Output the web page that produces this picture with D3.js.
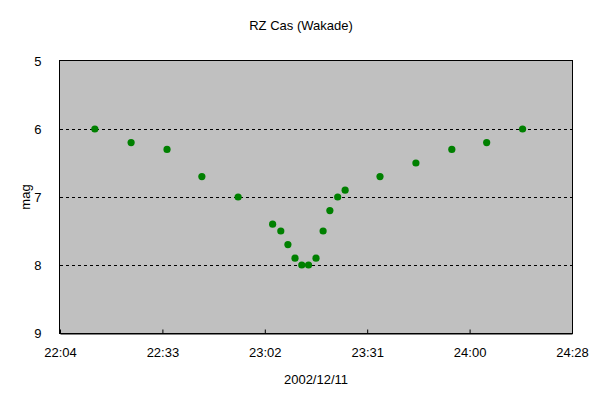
<!DOCTYPE html>
<html lang="ja">
<head>
<meta charset="UTF-8">
<title>RZ Cas (Wakade)</title>
<script src="https://d3js.org/d3.v7.min.js"></script>
<style>
    body { margin: 0; background: #fff; }
    text { font-family: "Liberation Sans", Arial, sans-serif; font-size: 13px; fill: #000; }
</style>
</head>
<body>
<div id="chart"></div>
<script>

    // observation times (2002/12/11, hours past midnight may exceed 24)
    var times = ["22:14:36", "22:24:48", "22:34:54", "22:44:42", "22:54:54",
        "23:04:36", "23:06:54", "23:08:54", "23:10:54", "23:12:48", "23:14:42",
        "23:16:48", "23:18:48", "23:20:42", "23:22:54", "23:25:00",
        "23:34:48", "23:44:54", "23:55:00", "24:04:48", "24:14:54"]
    var mags = [6.0, 6.2, 6.3, 6.7, 7.0,
        7.4, 7.5, 7.7, 7.9, 8.0, 8.0,
        7.9, 7.5, 7.2, 7.0, 6.9,
        6.7, 6.5, 6.3, 6.2, 6.0]

    var xTickLabels = ["22:04", "22:33", "23:02", "23:31", "24:00", "24:28"]
    var yTicks = [5, 6, 7, 8, 9]
    var gridLines = [6, 7, 8]

    var width = 602, height = 398
    var margin = {top: 61, right: 30, bottom: 65, left: 60}

    function toMinutes(s) {
        var p = s.split(":")
        return +p[0] * 60 + +p[1] + (p[2] ? +p[2] / 60 : 0)
    }

    // Excel style axis: 0.92 .. 1.02 day, step 0.02 day
    var xMin = 0.92 * 1440, xMax = 1.02 * 1440, xStep = 0.02 * 1440
    var xTicks = d3.range(xTickLabels.length).map(function (i) { return xMin + i * xStep })

    var svg = d3.select("#chart").append("svg")
        .attr("width", width)
        .attr("height", height)

    var x = d3.scaleLinear()
        .domain([xMin, xMax])
        .range([margin.left, width - margin.right])

    var y = d3.scaleLinear()
        .domain([5, 9])
        .range([margin.top, height - margin.bottom])

    // plot area
    svg.append("rect")
        .attr("x", x(xMin))
        .attr("y", y(5))
        .attr("width", x(xMax) - x(xMin))
        .attr("height", y(9) - y(5))
        .attr("fill", "#c0c0c0")

    svg.selectAll(".grid")
        .data(gridLines)
        .enter().append("line")
        .attr("class", "grid")
        .attr("x1", x(xMin))
        .attr("x2", x(xMax))
        .attr("y1", function (d) { return Math.round(y(d)) + 0.5 })
        .attr("y2", function (d) { return Math.round(y(d)) + 0.5 })
        .attr("stroke", "#000")
        .attr("stroke-dasharray", "3,3")

    svg.append("rect")
        .attr("x", x(xMin) - 0.5)
        .attr("y", y(5) - 0.5)
        .attr("width", x(xMax) - x(xMin) + 1)
        .attr("height", y(9) - y(5) + 1)
        .attr("fill", "none")
        .attr("stroke", "#000")

    // x axis
    var xAxis = d3.axisBottom(x)
        .tickValues(xTicks)
        .tickSizeInner(-4)
        .tickSizeOuter(0)
        .tickPadding(14)
        .tickFormat(function (d, i) { return xTickLabels[i] })

    var gx = svg.append("g")
        .attr("transform", "translate(0," + (Math.round(y(9)) + 0.5) + ")")
        .call(xAxis)
    gx.select(".domain").attr("stroke", "#000")
    gx.selectAll("text").attr("font-size", 13).attr("font-family", null)

    // y axis
    var yAxis = d3.axisLeft(y)
        .tickValues(yTicks)
        .tickSize(0)
        .tickPadding(18)
        .tickFormat(d3.format("d"))

    var gy = svg.append("g")
        .attr("transform", "translate(" + (x(xMin) - 0.5) + ",0)")
        .call(yAxis)
    gy.select(".domain").remove()
    gy.selectAll("text").attr("font-size", 13).attr("font-family", null)

    // points
    svg.selectAll(".pt")
        .data(times)
        .enter().append("circle")
        .attr("class", "pt")
        .attr("cx", function (d) { return x(toMinutes(d)) })
        .attr("cy", function (d, i) { return y(mags[i]) })
        .attr("r", 3.6)
        .attr("fill", "#008000")

    // titles
    svg.append("text")
        .attr("x", 301)
        .attr("y", 30)
        .attr("text-anchor", "middle")
        .text("RZ Cas (Wakade)")

    svg.append("text")
        .attr("x", (x(xMin) + x(xMax)) / 2)
        .attr("y", 384)
        .attr("text-anchor", "middle")
        .text("2002/12/11")

    svg.append("text")
        .attr("transform", "translate(30," + y(7) + ") rotate(-90)")
        .attr("text-anchor", "middle")
        .text("mag")

</script>
</body>
</html>
